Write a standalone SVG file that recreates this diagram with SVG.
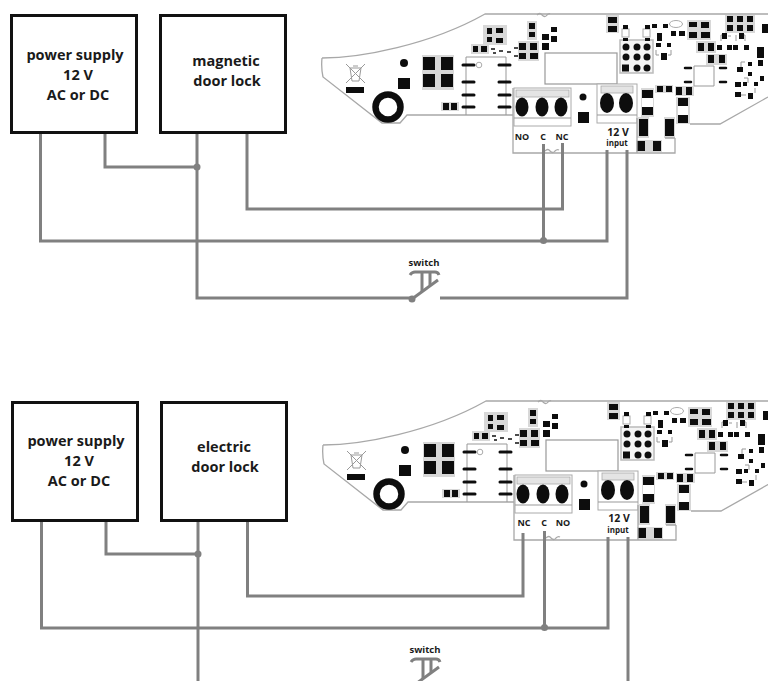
<svg xmlns="http://www.w3.org/2000/svg" xmlns:xlink="http://www.w3.org/1999/xlink" width="768" height="681" viewBox="0 0 768 681">
<style>
text{font-family:"Open Sans","Noto Sans","Liberation Sans",sans-serif;font-weight:700;fill:#1a1a1a;text-anchor:middle}
.box{fill:#fff;stroke:#111;stroke-width:3}
.t{font-size:14.500px}
.p{font-size:9px}
.v{font-size:10.500px}
.i{font-size:8px}
.s{font-size:9.500px}
.w{fill:none;stroke:#808080;stroke-width:3}
.o{fill:none;stroke:#a8a8a8;stroke-width:1.300}
.g{fill:none;stroke:#999;stroke-width:1}
.gb{fill:#d8d8d8}
.k{fill:#111}
.pill{stroke:#111;stroke-width:3;stroke-linecap:round}
.sw{fill:none;stroke:#808080;stroke-width:3}
</style>
<defs>
<filter id="soft" x="-5%" y="-5%" width="110%" height="110%"><feGaussianBlur stdDeviation="0.35"/></filter>
<g id="board" filter="url(#soft)">
<path class="o" d="M322 58 C360 58 430 45 485 14 H768 M768 97 L720 124 H690 M322 58 Q321 68 323 77 L382 123 H400 L407 115 H513 M513 88 V153 H675 V138"/>
<path class="o" d="M537 15 q3 -3 5 0 q3 3 5 0 q2 -2 3 -1 M545 151 q3 -3 5 0 q3 3 5 0 q2 -2 4 -1"/>
<path class="g" d="M346 64 L365 83 M365 64 L346 83 M350 68 H361 L359 81 H352 Z M353 66 H358"/>
<rect class="k" x="346" y="87" width="18" height="6"/>
<circle class="k" cx="404" cy="63" r="4"/>
<rect class="k" x="398" y="78" width="12" height="11"/>
<circle cx="388" cy="107" r="12.500" fill="#fff" stroke="#111" stroke-width="6.500"/>
<path class="gb" d="M422 55 H454 V90 H422 Z"/>
<path class="k" d="M423 57h12v13h-12z M441 57h12v13h-12z M423 74h12v13h-12z M441 74h12v13h-12z"/>
<path class="gb" d="M441 102 H459 V111 H441 Z"/>
<path class="k" d="M443 103h6v7h-6z M451 103h6v7h-6z"/>
<path class="g" d="M466 115 V57 H506 V115"/>
<circle cx="479" cy="65" r="2.800" fill="#fff" stroke="#aaa"/>
<path class="pill" d="M463 65h11 M463 82h11 M463 95h11 M463 107h11 M499 65h11 M499 82h11 M499 95h11 M499 107h11"/>
<path class="gb" d="M483 25h24v20h-24z M471 44h18v10h-18z M518 41h21v20h-21z M527 21h10v19h-10z"/>
<path class="k" d="M487 28h5v6h-5z M487 37h5v5h-5z M496 28h7v5h-7z M496 38h7v5h-7z M473 46h5v6h-5z M481 46h6v6h-6z M519 43h7v7h-7z M519 53h7v6h-7z M530 43h7v7h-7z M530 53h8v6h-8z M529 23h6v6h-6z M529 32h6v5h-6z M542 34h7v6h-7z M542 43h7v7h-7z M551 27h6v5h-6z M551 36h6v6h-6z"/>
<path d="M491 49h4M493 53h3M499 51h4M507 52h4M514 48h4M514 56h4" stroke="#111" stroke-width="1.600"/>
<rect x="545" y="53" width="72" height="31" fill="#fff" stroke="#999" stroke-width="1.200"/>
<rect x="514" y="88" width="57" height="38" fill="#fff" stroke="#aaa"/>
<rect x="516" y="90" width="53" height="7" fill="#e4e4e4" stroke="#aaa" stroke-width=".8"/>
<path class="g" d="M514 118H571"/>
<ellipse class="k" cx="522" cy="107" rx="6.500" ry="9.500"/>
<ellipse class="k" cx="542" cy="107" rx="6.500" ry="9.500"/>
<ellipse class="k" cx="561" cy="107" rx="6.500" ry="9.500"/>
<circle class="k" cx="583" cy="97" r="3.500"/>
<rect class="k" x="578" y="112" width="11" height="11"/>
<rect x="597" y="84" width="40" height="39" fill="#fff" stroke="#aaa"/>
<rect x="601" y="86" width="32" height="7" fill="#e4e4e4" stroke="#aaa" stroke-width=".8"/>
<path class="g" d="M597 115H637"/>
<ellipse class="k" cx="607" cy="103" rx="7" ry="10"/>
<ellipse class="k" cx="626" cy="103" rx="7" ry="10"/>
<path class="gb" d="M641 88h13v29h-13z M655 85h18v8h-18z M675 86h19v10h-19z M676 97h14v27h-14z M637 117h12v21h-12z M664 117h11v21h-11z M636 140h26v12h-26z"/>
<rect x="642" y="98" width="11" height="9" fill="#fff"/>
<rect x="678" y="106" width="10" height="9" fill="#fff"/>
<path class="k" d="M642 90h11v8h-11z M642 107h11v8h-11z M657 86h6v6h-6z M666 86h6v6h-6z M676 87h6v8h-6z M686 87h6v8h-6z M678 98h10v8h-10z M678 115h10v8h-10z M639 119h9v17h-9z M665 119h9v17h-9z M637 141h8v10h-8z M653 141h8v10h-8z"/>
<rect x="620" y="40" width="33" height="33" fill="#f4f4f4" stroke="#bbb" stroke-width="1.500"/>
<g class="k"><circle cx="626" cy="47" r="3.500"/><circle cx="637" cy="47" r="3.500"/><circle cx="647" cy="47" r="3.500"/><circle cx="626" cy="57" r="3.500"/><circle cx="637" cy="57" r="3.500"/><circle cx="647" cy="57" r="3.500"/><rect x="622" y="64.500" width="7" height="7"/><circle cx="637" cy="68" r="3.500"/><circle cx="647" cy="68" r="3.500"/></g>
<path class="gb" d="M606 15h13v18h-13z M687 20h24v20h-24z M696 41h20v12h-20z M706 54h21v11h-21z M725 15h30v18h-30z"/>
<rect x="622" y="29" width="7" height="8" fill="#fff" stroke="#aaa"/>
<rect x="643" y="29" width="7" height="8" fill="#fff" stroke="#aaa"/>
<ellipse cx="676" cy="24" rx="6.500" ry="3.500" fill="#fff" stroke="#aaa"/>
<path class="g" d="M656 50v5h3M671 50v5h-3M721 41v-6h3M731 36h-3M736 41v-6M745 41v-6h-3M745 62h-4v5M744 78h4v5M741 95h5M755 88v5"/>
<path class="k" d="M623 25h5v4h-5z M623 38h5v3h-5z M645 25h5v4h-5z M645 38h5v3h-5z M608 17h9v6h-9z M608 26h9v6h-9z M652 24h5v4h-5z M663 24h5v4h-5z M657 33h5v8h-5z M671 31h5v5h-5z M679 31h6v5h-6z M656 43h5v4h-5z M667 43h4v4h-4z M661 53h6v7h-6z M689 22h8v5h-8z M689 32h8v6h-8z M701 22h8v6h-8z M701 32h9v6h-9z M698 43h6v8h-6z M708 43h6v8h-6z M708 55h6v8h-6z M719 55h6v8h-6z M717 45h5v5h-5z M727 45h5v5h-5z M733 45h5v5h-5z M744 45h5v5h-5z M722 33h5v6h-5z M739 33h5v6h-5z M727 16h6v6h-6z M737 16h6v6h-6z M747 16h6v6h-6z M727 25h6v6h-6z M737 25h6v6h-6z M747 25h6v6h-6z M762 24h6v9h-6z M757 47h7v11h-7z M758 60h5v6h-5z M737 67h6v5h-6z M748 62h4v4h-4z M748 72h4v4h-4z M760 76h4v5h-4z M735 82h6v5h-6z M735 92h6v5h-6z M743 82h4v4h-4z M748 93h5v6h-5z M754 82h4v4h-4z"/>
<path d="M685 68h6M720 68h6M685 82h6M720 82h6" stroke="#111" stroke-width="2.500" stroke-linecap="round"/>
<path class="g" d="M694 66h20v20h-20z"/>
<path class="o" d="M637 118v35M675 138h-10"/>
</g>
<g id="switchsym">
<path class="sw" d="M410 275 Q412 272 415 272 H435 Q438 272 439 275 M422 272 V292 M430 272 V285"/>
<path class="sw" d="M412 299 L438 280"/>
<circle cx="412" cy="299" r="3.500" fill="#808080"/>
</g>
</defs>
<rect width="768" height="681" fill="#fff"/>

<g id="board-1"><use href="#board" xlink:href="#board"/>
<text class="p" x="522" y="139.500">NO</text><text class="p" x="543" y="139.500">C</text><text class="p" x="562" y="139.500">NC</text>
<text class="v" x="618" y="135.500">12 V</text><text class="i" x="617" y="146">input</text></g>
<g id="board-2"><use href="#board" xlink:href="#board" transform="translate(1 387)"/>
<text class="p" x="524" y="526">NC</text><text class="p" x="544" y="526">C</text><text class="p" x="563" y="526">NO</text>
<text class="v" x="619" y="522">12 V</text><text class="i" x="618" y="533">input</text></g>

<g id="connectors">
<path class="w" d="M40.500 133 V241 H607 V150"/>
<path class="w" d="M105 133 V167 H197"/>
<path class="w" d="M197 133 V298 H412"/>
<path class="w" d="M247 133 V209 H562.500 V143"/>
<path class="w" d="M543.500 144 V241"/>
<path class="w" d="M627 150 V298 H440"/>
<circle cx="197" cy="167" r="3.500" fill="#808080"/>
<circle cx="543.500" cy="240.500" r="3.500" fill="#808080"/>
<path class="w" d="M41.500 521 V628 H608 V537"/>
<path class="w" d="M106 521 V554 H198"/>
<path class="w" d="M198 521 V681"/>
<path class="w" d="M247.500 521 V596 H523 V533"/>
<path class="w" d="M544.500 531 V628"/>
<path class="w" d="M628 537 V681"/>
<circle cx="198" cy="554" r="3.500" fill="#808080"/>
<circle cx="544.500" cy="627.500" r="3.500" fill="#808080"/>
</g>

<g id="power-supply-1"><rect class="box" x="11.500" y="15.500" width="125" height="117"/>
<text class="t" x="75" y="60">power supply</text><text class="t" x="78" y="80">12 V</text><text class="t" x="78" y="100">AC or DC</text></g>
<g id="magnetic-door-lock"><rect class="box" x="160.500" y="15.500" width="125" height="117"/>
<text class="t" x="226" y="66">magnetic</text><text class="t" x="227" y="86">door lock</text></g>
<g id="switch-1"><text class="s" x="424" y="266">switch</text><use href="#switchsym" xlink:href="#switchsym"/></g>

<g id="power-supply-2"><rect class="box" x="12.500" y="402.500" width="125" height="118"/>
<text class="t" x="76" y="446">power supply</text><text class="t" x="79" y="466">12 V</text><text class="t" x="79" y="486">AC or DC</text></g>
<g id="electric-door-lock"><rect class="box" x="161.500" y="402.500" width="125" height="118"/>
<text class="t" x="224" y="452">electric</text><text class="t" x="225" y="472">door lock</text></g>
<g id="switch-2"><text class="s" x="425" y="653">switch</text><use href="#switchsym" xlink:href="#switchsym" transform="translate(1 387)"/></g>
</svg>
